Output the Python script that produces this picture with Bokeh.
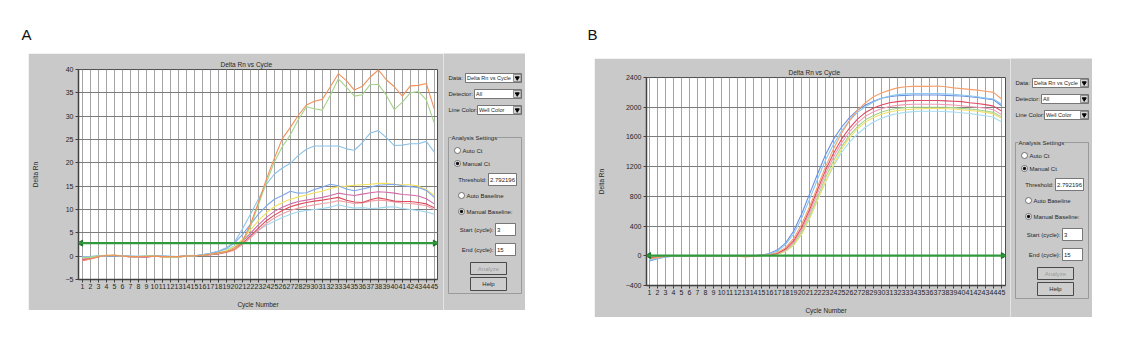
from math import pi
from bokeh.plotting import figure
from bokeh.layouts import row, column
from bokeh.models import Range1d, FixedTicker, Span, Label
from bokeh.embed import file_html
from bokeh.resources import INLINE
from bokeh.core.properties import value

# ---------------- data ----------------
cycles = list(range(1, 46))
threshold = 2.792196

a_ticks = [-5, 0, 5, 10, 15, 20, 25, 30, 35, 40]
b_ticks = [-400, 0, 400, 800, 1200, 1600, 2000, 2400]

a_cyan = [-0.1,-0.1,0.0,0.1,0.1,0.0,0.0,0.0,0.0,0.0,0.0,0.0,-0.1,0.0,0.1,
          0.3,0.6,1.0,1.5,2.2, 3.4,4.5,5.6,6.6,7.5, 8.3,9.0,9.5,9.8,10.0,
          10.2,10.5,11.0,10.6,10.3, 10.4,10.2,10.3,10.5,10.6, 10.2,10.0,9.8,9.5,9.0]
a_pink = [-0.9,-0.6,-0.1,0.1,0.2,0.0,-0.1,-0.1,-0.1,0.0,-0.1,-0.1,-0.1,0.0,0.1,
          0.2,0.3,0.5,0.8,1.3, 2.5,3.9,5.5,7.0,8.2, 9.1,9.8,10.3,10.7,11.0,
          11.3,11.5,11.9,11.6,11.3, 11.4,11.8,12.0,11.9,11.6, 11.4,11.3,11.1,10.8,10.0]
a_red = [-0.8,-0.5,-0.1,0.1,0.2,0.0,-0.1,-0.1,-0.1,0.0,-0.1,-0.1,-0.1,0.0,0.1,
         0.2,0.3,0.5,0.9,1.5, 2.8,4.3,6.0,7.6,8.8, 9.8,10.6,11.1,11.5,11.8,
         12.0,12.3,12.6,12.0,11.6, 11.5,12.1,12.5,12.2,11.8, 11.7,11.7,11.5,11.2,10.4]
a_magenta = [-0.6,-0.4,-0.1,0.1,0.1,0.0,-0.1,-0.2,-0.2,0.0,-0.1,-0.1,-0.1,0.0,0.1,
             0.2,0.4,0.6,1.0,1.8, 3.2,4.9,6.7,8.3,9.6, 10.5,11.2,11.7,12.0,12.3,
             12.6,13.0,13.5,13.2,13.0, 13.3,13.6,13.8,13.7,13.5, 13.2,13.1,12.9,12.3,11.2]
a_yellow = [-0.4,-0.3,0.0,0.2,0.2,0.0,-0.1,-0.1,0.0,0.0,-0.1,-0.2,-0.1,0.0,0.1,
            0.2,0.4,0.7,1.2,2.0, 3.6,5.6,7.6,9.3,10.6, 11.5,12.2,12.7,13.1,13.6,
            13.9,14.5,14.9,15.0,15.2, 15.3,15.4,15.6,15.6,15.4, 15.3,15.3,15.0,14.3,13.0]
a_cornflower = [-0.2,-0.1,0.0,0.1,0.1,0.0,-0.1,-0.1,-0.1,0.0,0.0,-0.1,-0.1,0.0,0.1,
                0.3,0.6,1.0,1.7,2.8, 4.6,6.8,9.0,10.8,12.2, 13.0,13.9,13.5,13.6,14.3,
                14.8,15.4,15.1,14.4,14.0, 14.4,14.8,15.2,15.3,15.4, 15.1,14.9,14.7,14.1,12.6]
a_blue = [-0.2,-0.1,0.0,0.1,0.1,0.0,0.0,-0.1,0.0,0.0,0.0,-0.1,-0.1,0.0,0.1,
          0.3,0.6,1.1,1.8,3.0, 5.8,9.0,12.2,15.4,17.6, 18.9,19.9,21.6,22.9,23.6,
          23.6,23.6,23.6,23.0,22.7, 24.3,26.4,26.9,25.4,23.7, 23.8,24.1,24.1,24.6,22.3]
a_green = [-0.3,-0.2,0.0,0.1,0.2,0.0,-0.1,-0.1,0.0,0.0,-0.1,-0.2,-0.2,0.0,0.1,
           0.2,0.4,0.6,1.0,1.6, 3.0,6.3,11.0,15.8,20.2, 23.5,26.0,29.3,32.0,31.6,
           31.3,34.5,38.0,36.2,34.3, 34.6,36.8,36.8,34.5,31.4, 33.0,35.0,35.3,33.5,28.5]
a_orange = [-1.0,-0.6,-0.1,0.2,0.2,0.0,-0.1,-0.1,-0.1,0.0,-0.1,-0.1,-0.1,0.0,0.1,
            0.2,0.4,0.7,1.0,1.5, 3.2,6.8,11.5,16.5,21.0, 25.2,27.6,30.2,32.4,33.2,
            33.6,36.3,39.1,37.6,35.6, 36.4,38.4,39.9,37.8,36.3, 34.3,36.5,36.6,37.0,31.5]

b_cyan = [-50,-30,-10,0,0,0,0,0,0,0,0,0,0,0,5,
          10,20,60,140,290, 500,750,990,1210,1390, 1530,1640,1730,1800,1850,
          1890,1915,1930,1940,1945, 1945,1945,1940,1935,1925, 1915,1900,1885,1865,1800]
b_yellow = [-25,-15,-5,0,0,0,0,0,0,0,0,0,0,0,5,
            10,20,60,140,290, 500,750,1000,1230,1430, 1590,1710,1800,1860,1905,
            1935,1955,1965,1975,1980, 1985,1985,1980,1975,1965, 1955,1945,1930,1910,1850]
b_green = [-20,-15,-5,0,0,0,0,0,0,0,0,-5,-10,0,5,
           10,25,70,160,320, 540,790,1050,1280,1470, 1620,1740,1830,1890,1935,
           1965,1985,1995,2000,2000, 2000,2000,2000,1995,1985, 1975,1965,1950,1930,1870]
b_pink = [-35,-20,-10,0,0,0,0,0,0,0,0,0,0,0,5,
          10,30,80,180,350, 580,840,1100,1330,1520, 1670,1790,1880,1940,1980,
          2010,2025,2035,2040,2040, 2040,2040,2035,2030,2020, 2010,2000,1985,1965,1900]
b_red = [-30,-20,-10,0,0,0,0,0,0,0,0,0,0,0,5,
         10,35,90,200,380, 620,890,1150,1380,1570, 1720,1840,1930,1990,2030,
         2060,2075,2085,2090,2090, 2090,2090,2085,2080,2075, 2060,2050,2035,2015,1950]
b_blue = [-70,-40,-15,-5,0,0,0,0,0,0,0,0,0,0,10,
          30,80,170,330,560, 830,1100,1360,1570,1730, 1860,1960,2030,2080,2120,
          2140,2155,2160,2165,2165, 2165,2165,2160,2155,2150, 2140,2130,2115,2100,2020]
b_ltblue = [-60,-35,-15,-5,0,0,0,0,0,0,0,0,-5,0,10,
            25,65,150,290,500, 760,1030,1290,1500,1680, 1820,1930,2010,2070,2120,
            2150,2170,2180,2185,2185, 2185,2185,2180,2175,2165, 2155,2140,2125,2110,2040]
b_orange = [-40,-25,-10,0,0,0,0,0,0,0,0,-5,-15,-5,5,
            15,45,110,230,420, 660,930,1200,1440,1650, 1820,1960,2060,2140,2190,
            2230,2260,2275,2280,2280, 2280,2285,2275,2260,2250, 2240,2230,2215,2200,2110]

a_series = [a_cyan, a_pink, a_red, a_magenta, a_yellow, a_cornflower, a_blue, a_green, a_orange]
a_colors = ["#9fd6ee", "#f0a0a8", "#e04a5c", "#d46aa8", "#f2e25a", "#7ea6ea", "#8cc2e6", "#a6d48a", "#f2905a"]
b_series = [b_cyan, b_yellow, b_green, b_pink, b_red, b_blue, b_ltblue, b_orange]
b_colors = ["#a6dcf0", "#eee06a", "#a6d48a", "#f09ab4", "#e04a64", "#6a90e2", "#8cc8f0", "#f4a06c"]

# ---------------- style ----------------
GRAY = "#c9c9c9"
FONT = "Liberation Sans"
TXT = "#262626"


def make_chart(series, colors, yr, yticks, xr, w, h, borders, ylab_standoff, left_margin):
    p = figure(width=w, height=h, x_range=Range1d(*xr), y_range=Range1d(*yr),
               output_backend="svg", toolbar_location=None,
               min_border_left=borders[0], min_border_right=borders[1],
               min_border_top=borders[2], min_border_bottom=borders[3],
               border_fill_color=GRAY, background_fill_color="white",
               outline_line_color="#505050", outline_line_width=1)
    p.margin = (0, 0, 0, left_margin)
    p.title.text = "Delta Rn vs Cycle"
    p.title.align = "left"
    p.title.offset = 142
    p.title.standoff = 3
    p.title.text_font = FONT
    p.title.text_font_size = "6.5px"
    p.title.text_font_style = "normal"
    p.title.text_color = TXT

    p.xaxis.ticker = FixedTicker(ticks=cycles)
    p.yaxis.ticker = FixedTicker(ticks=yticks)
    p.xaxis.axis_label = "Cycle Number"
    p.yaxis.axis_label = "Delta Rn"
    for ax in (p.xaxis[0], p.yaxis[0]):
        ax.axis_line_color = "#404040"
        ax.axis_line_width = 1.5
        ax.major_tick_line_color = "#404040"
        ax.major_tick_out = 3
        ax.major_tick_in = 0
        ax.minor_tick_line_color = None
        ax.major_label_text_font = FONT
        ax.major_label_text_font_size = "7px"
        ax.major_label_text_color = TXT
        ax.axis_label_text_font = FONT
        ax.axis_label_text_font_size = "6.5px"
        ax.axis_label_text_font_style = "normal"
        ax.axis_label_text_color = TXT
    p.xaxis.major_label_standoff = 1
    p.xaxis.axis_label_standoff = 9
    p.yaxis.major_label_standoff = 2
    p.yaxis.axis_label_standoff = ylab_standoff

    p.xgrid.grid_line_color = "#a4a4a4"
    p.xgrid.grid_line_width = 1
    p.ygrid.grid_line_color = "#7c7c7c"
    p.ygrid.grid_line_width = 1

    for ys, col in zip(series, colors):
        p.line(cycles, ys, line_color=col, line_width=1.1)

    p.add_layout(Span(location=threshold, dimension="width",
                      line_color="#2f9a3c", line_width=2.2))
    p.scatter([xr[0] + 0.3, xr[1] - 0.3], [threshold, threshold], marker="triangle",
              angle=[pi / 2, -pi / 2], size=6, fill_color="#1f6e2a", line_color="#1f6e2a")
    return p


def make_controls(h):
    c = figure(width=82, height=h, x_range=Range1d(0, 82), y_range=Range1d(h, 0),
               output_backend="svg", toolbar_location=None, min_border=0,
               border_fill_color=GRAY, background_fill_color=GRAY,
               outline_line_color=None, x_axis_location=None, y_axis_location=None)
    c.xgrid.visible = False
    c.ygrid.visible = False
    f = value(FONT)
    fs = value("6px")

    # drop-down lists
    dd_y = [20, 36, 52]
    dd_left = [22, 31, 34]
    dd_lab = ["Data:", "Detector:", "Line Color:"]
    dd_val = ["Delta Rn vs Cycle", "All", "Well Color"]
    c.quad(left=dd_left, right=[78] * 3, top=dd_y, bottom=[y + 9 for y in dd_y],
           fill_color="white", line_color="#5a5a5a", line_width=0.8)
    c.quad(left=[70] * 3, right=[77.5] * 3, top=[y + 1 for y in dd_y], bottom=[y + 8 for y in dd_y],
           fill_color="#d6d6d6", line_color="#505050", line_width=0.6)
    c.scatter(x=[73.75] * 3, y=[y + 4.5 for y in dd_y], marker="inverted_triangle",
              size=4, color="black")
    c.text(x=[5] * 3, y=[y + 4.5 for y in dd_y], text=dd_lab, text_font=f,
           text_font_size=fs, text_baseline="middle", text_color=TXT)
    c.text(x=[l + 1.5 for l in dd_left], y=[y + 4.5 for y in dd_y], text=dd_val,
           text_font=f, text_font_size=value("5.5px"), text_baseline="middle", text_color=TXT)

    # group box
    c.quad(left=[5], right=[78], top=[84], bottom=[240], fill_alpha=0,
           line_color="#8e8e8e", line_width=0.8)
    c.add_layout(Label(x=8, y=84, text="Analysis Settings", text_font=FONT,
                       text_font_size="6px", text_baseline="middle", text_color=TXT,
                       background_fill_color=GRAY))

    # radio buttons
    rx = [14, 14, 18, 18]
    ry = [97, 110, 142, 158]
    rlab = ["Auto Ct", "Manual Ct", "Auto Baseline", "Manual Baseline:"]
    c.scatter(x=rx, y=ry, marker="circle", size=6, fill_color="white",
              line_color="#555555", line_width=0.8)
    c.scatter(x=[rx[1], rx[3]], y=[ry[1], ry[3]], marker="circle", size=2.5, color="black")
    c.text(x=[x + 5 for x in rx], y=ry, text=rlab, text_font=f, text_font_size=fs,
           text_baseline="middle", text_color=TXT)

    # text boxes
    tb_l = [45, 52, 52]
    tb_r = [73, 72, 72]
    tb_t = [120, 170, 190]
    tb_lab = ["Threshold:", "Start (cycle):", "End (cycle):"]
    tb_val = ["2.792196", "3", "15"]
    c.quad(left=tb_l, right=tb_r, top=tb_t, bottom=[t + 12 for t in tb_t],
           fill_color="white", line_color="#5a5a5a", line_width=0.8)
    c.text(x=[l - 2 for l in tb_l], y=[t + 6 for t in tb_t], text=tb_lab, text_font=f,
           text_font_size=fs, text_baseline="middle", text_align="right", text_color=TXT)
    c.text(x=[l + 1.5 for l in tb_l], y=[t + 6 for t in tb_t], text=tb_val, text_font=f,
           text_font_size=fs, text_baseline="middle", text_color=TXT)

    # buttons
    c.quad(left=[27, 27], right=[63, 63], top=[209, 224], bottom=[221, 237],
           fill_color="#cdcdcd", line_color="#3a3a3a", line_width=0.9)
    c.text(x=[45, 45], y=[215, 230.5], text=["Analyze", "Help"], text_font=f,
           text_font_size=fs, text_baseline="middle", text_align="center",
           text_color=["#9a9a9a", TXT])
    return c


def make_head(w, h, letter, lx):
    hd = figure(width=w, height=h, x_range=Range1d(0, w), y_range=Range1d(h, 0),
                output_backend="svg", toolbar_location=None, min_border=0,
                border_fill_color="white", background_fill_color="white",
                outline_line_color=None, x_axis_location=None, y_axis_location=None)
    hd.xgrid.visible = False
    hd.ygrid.visible = False
    hd.text(x=[lx], y=[34], text=[letter], text_font=value("Liberation Sans"),
            text_font_size=value("15px"), text_baseline="alphabetic", text_color="#111111")
    return hd


chart_a = make_chart(a_series, a_colors, (-5, 40), a_ticks, (0.5, 45.4), 415, 257,
                     (49, 6, 16, 30), 24, 28)
chart_b = make_chart(b_series, b_colors, (-400, 2400), b_ticks, (0.62, 45.5), 416, 259,
                     (49, 5, 19, 32), 18, 34)
ctrl_a = make_controls(257)
ctrl_b = make_controls(259)
head_a = make_head(560, 53, "A", 21)
head_b = make_head(563, 58, "B", 27)

layout = row(column(head_a, row(chart_a, column(ctrl_a))),
             column(head_b, row(chart_b, column(ctrl_b))))

open("out.html", "w").write(file_html(layout, INLINE))
